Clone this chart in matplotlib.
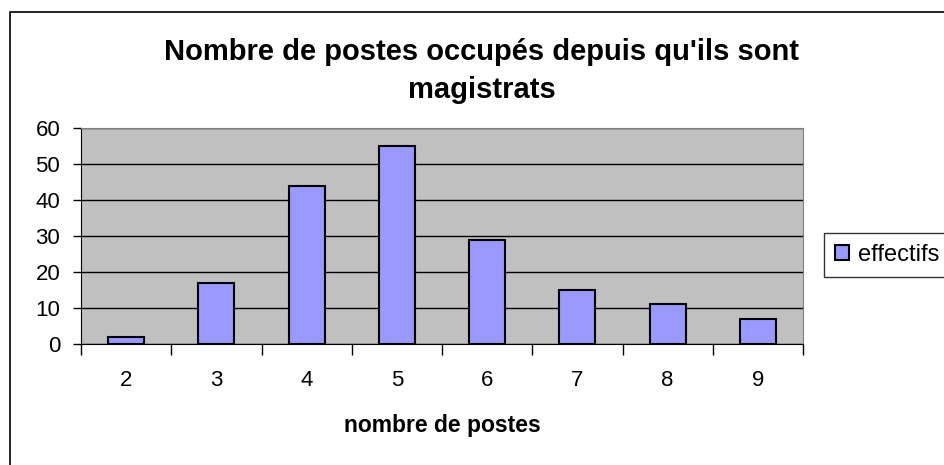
import matplotlib
matplotlib.use("Agg")
import matplotlib.pyplot as plt
from matplotlib.patches import Rectangle
import numpy as np

plt.rcParams['font.family'] = ['Liberation Sans', 'DejaVu Sans']

categories = ['2', '3', '4', '5', '6', '7', '8', '9']
effectifs = [2, 17, 44, 55, 29, 15, 11, 7]
yticks = [0, 10, 20, 30, 40, 50, 60]

fig = plt.figure(figsize=(9.44, 4.65), dpi=100)
ax = fig.add_axes([81/944, 1 - 344/465, (803 - 81)/944, (344 - 128)/465])

# outer chart border (runs off the right and bottom edges)
fig.patches.append(Rectangle((10/944, -0.1), 1.2, 1 - 12/465 + 0.1, transform=fig.transFigure,
                             fill=False, edgecolor='black', linewidth=1.2))

x = np.arange(len(categories))
ax.set_facecolor('#C0C0C0')
ax.bar(x, effectifs, width=0.4, color='#9999FF', edgecolor='black', linewidth=1.5,
       label='effectifs', zorder=3)

ax.set_xlim(-0.5, len(categories) - 0.5)
ax.set_ylim(0, 60)
ax.set_yticks(yticks)
ax.yaxis.grid(True, color='black', linewidth=1.0, zorder=1)
ax.set_axisbelow(True)

ax.set_xticks(x)
ax.set_xticklabels(categories)
ax.set_xticks(np.arange(len(categories) + 1) - 0.5, minor=True)
ax.tick_params(axis='x', which='major', length=0, pad=19, labelsize=16)
ax.tick_params(axis='x', which='minor', length=8, width=1, direction='out')
ax.tick_params(axis='y', length=6, width=1, direction='out', labelsize=16, pad=9)

for side in ['top', 'right']:
  ax.spines[side].set_color('#808080')
ax.spines['left'].set_color('black')
ax.spines['bottom'].set_color('black')

ax.set_xlabel('nombre de postes', fontsize=16.5, fontweight='bold', labelpad=16)

fig.text(482/944, 1 - 71/465, "Nombre de postes occupés depuis qu'ils sont\nmagistrats",
         ha='center', va='center', fontsize=21, fontweight='bold', linespacing=1.45)

leg = ax.legend(loc='center left', bbox_to_anchor=(824/944, 1 - 255/465),
                bbox_transform=fig.transFigure, frameon=True, fancybox=False,
                fontsize=17, handlelength=0.6, handleheight=0.6, handletextpad=0.4,
                borderpad=0.45, borderaxespad=0)
leg.get_frame().set_edgecolor('black')
leg.get_frame().set_linewidth(1.0)

fig.savefig('out.png', dpi=100)
